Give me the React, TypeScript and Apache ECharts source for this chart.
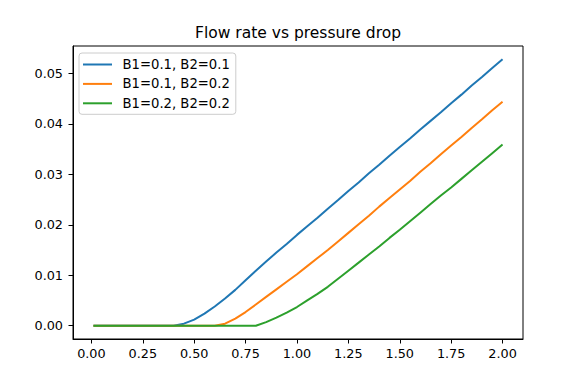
import React, { useEffect, useRef } from "react";
import * as echarts from "echarts";

const title = "Flow rate vs pressure drop";
const seriesNames = ["B1=0.1, B2=0.1", "B1=0.1, B2=0.2", "B1=0.2, B2=0.2"];
const colors = ["#1f77b4", "#ff7f0e", "#2ca02c"];

const pressureDrop = [
  0.01, 0.05, 0.1, 0.15, 0.2, 0.25, 0.3, 0.35, 0.4, 0.45, 0.5, 0.55, 0.6, 0.65,
  0.7, 0.75, 0.8, 0.85, 0.9, 0.95, 1.0, 1.05, 1.1, 1.15, 1.2, 1.25, 1.3, 1.35,
  1.4, 1.45, 1.5, 1.55, 1.6, 1.65, 1.7, 1.75, 1.8, 1.85, 1.9, 1.95, 2.0,
];

const flowB1_01_B2_01 = [
  0, 0, 0, 0, 0, 0, 0, 0, 0, 0.0004, 0.0012, 0.0024, 0.0038, 0.0054, 0.0071,
  0.009, 0.0109, 0.0127, 0.0145, 0.0162, 0.018, 0.0197, 0.0214, 0.0232, 0.0249,
  0.0267, 0.0284, 0.0302, 0.0319, 0.0337, 0.0354, 0.0371, 0.0389, 0.0406,
  0.0423, 0.0441, 0.0458, 0.0476, 0.0493, 0.0511, 0.0528,
];

const flowB1_01_B2_02 = [
  0, 0, 0, 0, 0, 0, 0, 0, 0, 0, 0, 0, 0, 0.0004, 0.0014, 0.0027, 0.0042,
  0.0057, 0.0072, 0.0087, 0.0102, 0.0118, 0.0134, 0.015, 0.0167, 0.0184,
  0.0201, 0.0218, 0.0236, 0.0253, 0.027, 0.0287, 0.0305, 0.0322, 0.034, 0.0357,
  0.0374, 0.0392, 0.0409, 0.0427, 0.0444,
];

const flowB1_02_B2_02 = [
  0, 0, 0, 0, 0, 0, 0, 0, 0, 0, 0, 0, 0, 0, 0, 0, 0, 0.0007, 0.0016, 0.0026,
  0.0037, 0.005, 0.0063, 0.0077, 0.0093, 0.0109, 0.0125, 0.0141, 0.0157,
  0.0174, 0.019, 0.0207, 0.0224, 0.0241, 0.0258, 0.0274, 0.0291, 0.0308,
  0.0325, 0.0342, 0.0359,
];

const xTicks = [0, 0.25, 0.5, 0.75, 1.0, 1.25, 1.5, 1.75, 2.0];
const yTicks = [0, 0.01, 0.02, 0.03, 0.04, 0.05];

const FONT = "DejaVu Sans";

export default function App() {
  const ref = useRef<HTMLDivElement>(null);
  useEffect(() => {
    if (!ref.current) return;
    const chart = echarts.init(ref.current, undefined, { renderer: "svg" });
    const allY = [flowB1_01_B2_01, flowB1_01_B2_02, flowB1_02_B2_02];
    const xMin = pressureDrop[0];
    const xMax = pressureDrop[pressureDrop.length - 1];
    const xPad = (xMax - xMin) * 0.05;
    const yMaxData = Math.max(...allY.flat());
    const yPad = yMaxData * 0.05;
    chart.setOption({
      animation: false,
      backgroundColor: "#ffffff",
      textStyle: { fontFamily: FONT },
      graphic: [
        {
          type: "text",
          x: 298,
          y: 33,
          style: {
            text: title,
            fontSize: 15.5,
            fontFamily: FONT,
            fill: "#000",
            align: "center",
            verticalAlign: "middle",
          },
        },
      ],
      grid: {
        left: 73,
        top: 46,
        width: 450,
        height: 293,
        show: true,
        borderColor: "#000",
        borderWidth: 1,
        backgroundColor: "transparent",
      },
      legend: {
        orient: "vertical",
        left: 79,
        top: 53,
        data: seriesNames,
        icon: "rect",
        itemWidth: 29,
        itemHeight: 2,
        itemGap: 5.4,
        padding: [4.5, 6, 4, 4],
        borderColor: "#cccccc",
        borderWidth: 1,
        borderRadius: 3,
        backgroundColor: "rgba(255,255,255,0.8)",
        textStyle: {
          fontFamily: FONT,
          fontSize: 13.2,
          color: "#000",
          lineHeight: 14,
          padding: [0, 0, 0, 5.5],
        },
      },
      xAxis: {
        type: "value",
        min: xMin - xPad,
        max: xMax + xPad,
        splitLine: { show: false },
        axisLine: { show: true, onZero: false, lineStyle: { color: "#000", width: 1 } },
        axisTick: {
          show: true,
          customValues: xTicks,
          length: 4.5,
          lineStyle: { color: "#000", width: 1 },
        },
        axisLabel: {
          customValues: xTicks,
          formatter: (v: number) => v.toFixed(2),
          fontFamily: FONT,
          fontSize: 12.8,
          color: "#000",
          margin: 8,
        },
      },
      yAxis: {
        type: "value",
        min: -yPad,
        max: yMaxData + yPad,
        splitLine: { show: false },
        axisLine: { show: true, onZero: false, lineStyle: { color: "#000", width: 1 } },
        axisTick: {
          show: true,
          customValues: yTicks,
          length: 4.5,
          lineStyle: { color: "#000", width: 1 },
        },
        axisLabel: {
          customValues: yTicks,
          formatter: (v: number) => v.toFixed(2),
          fontFamily: FONT,
          fontSize: 12.8,
          color: "#000",
          margin: 10,
        },
      },
      series: allY.map((ys, i) => ({
        name: seriesNames[i],
        type: "line",
        data: pressureDrop.map((x, j) => [x, ys[j]]),
        showSymbol: false,
        symbol: "none",
        smooth: false,
        color: colors[i],
        lineStyle: { color: colors[i], width: 2 },
      })),
    });
    return () => chart.dispose();
  }, []);
  return (
    <div
      ref={ref}
      style={{ position: "fixed", left: 0, top: 0, width: 581, height: 388 }}
    />
  );
}
